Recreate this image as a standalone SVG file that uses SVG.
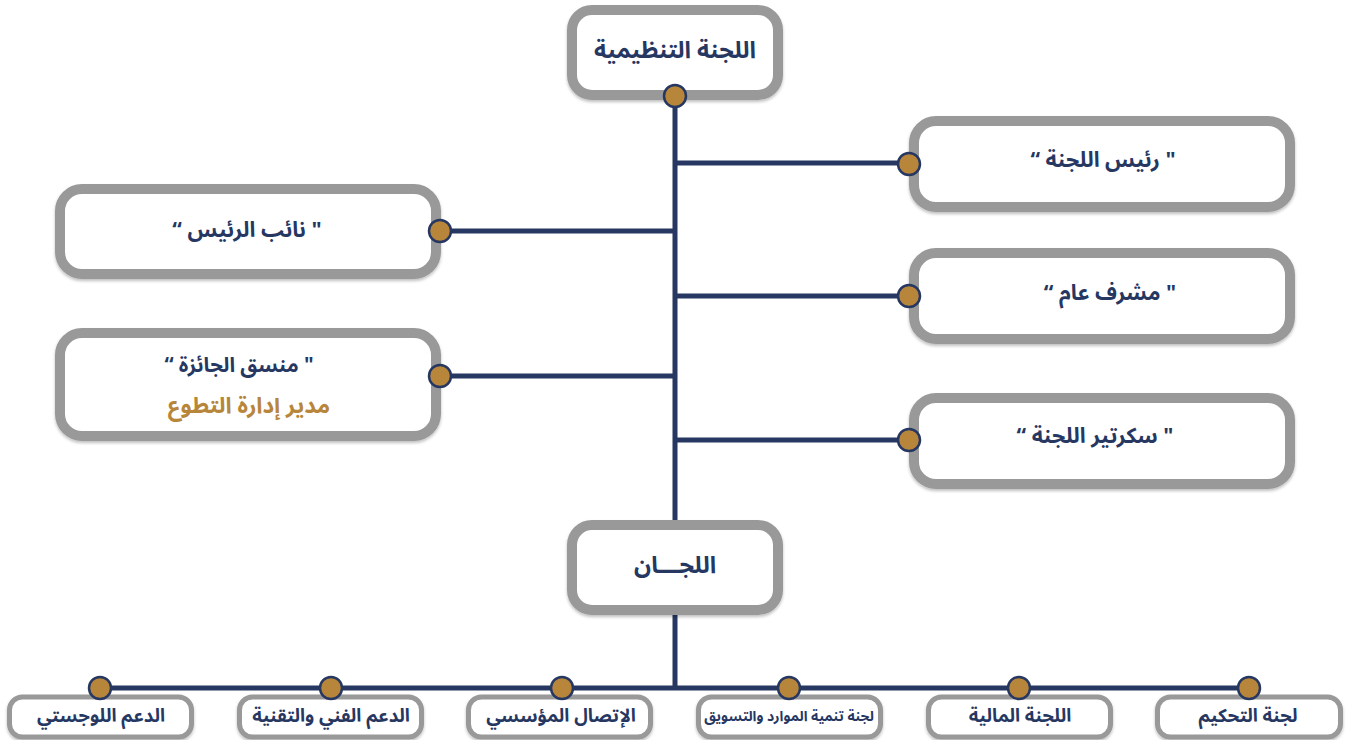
<svg xmlns="http://www.w3.org/2000/svg" width="1347" height="740" viewBox="0 0 1347 740">
<defs>
<filter id="sh" x="-10%" y="-20%" width="120%" height="140%">
<feDropShadow dx="0" dy="2" stdDeviation="1.5" flood-color="#000" flood-opacity="0.25"/>
</filter>
</defs>
<style>
.box{fill:#fff;stroke:#999;stroke-width:10;filter:url(#sh)}
.sbox{fill:#fff;stroke:#999;stroke-width:5;filter:url(#sh)}
.t{font-family:'Noto Sans Arabic','DejaVu Sans',sans-serif;font-weight:bold;fill:#263762;text-anchor:middle;dominant-baseline:middle;direction:rtl;unicode-bidi:embed}
.g{fill:#b8863a}
.ln{stroke:#263762;stroke-width:5;fill:none}
.dot{fill:#b8863a;stroke:#263762;stroke-width:2.5}
</style>
<rect width="1347" height="740" fill="#fff"/>
<g id="connectors">
<line class="ln" x1="675" y1="96" x2="675" y2="530"/>
<line class="ln" x1="675" y1="610" x2="675" y2="688"/>
<line class="ln" x1="675" y1="163" x2="909" y2="163"/>
<line class="ln" x1="675" y1="296" x2="909" y2="296"/>
<line class="ln" x1="675" y1="440" x2="909" y2="440"/>
<line class="ln" x1="440" y1="231" x2="675" y2="231"/>
<line class="ln" x1="440" y1="376" x2="675" y2="376"/>
<line class="ln" x1="100" y1="688" x2="1249" y2="688"/>
</g>
<g id="n-top">
<rect class="box" x="572" y="10" width="206" height="85" rx="20"/>
<text class="t" x="675" y="52" font-size="23.5">اللجنة التنظيمية</text>
</g>
<g id="n-chair">
<rect class="box" x="914" y="121" width="376" height="86" rx="22"/>
<text class="t" x="1103" y="161" font-size="21.5">" رئيس اللجنة “</text>
</g>
<g id="n-super">
<rect class="box" x="914" y="253" width="376" height="86" rx="22"/>
<text class="t" x="1110" y="294" font-size="21.5">" مشرف عام “</text>
</g>
<g id="n-sec">
<rect class="box" x="914" y="398" width="376" height="86" rx="22"/>
<text class="t" x="1095" y="437" font-size="21.5">" سكرتير اللجنة “</text>
</g>
<g id="n-vice">
<rect class="box" x="60" y="189" width="376" height="85" rx="22"/>
<text class="t" x="247" y="231" font-size="21.5">" نائب الرئيس “</text>
</g>
<g id="n-coord">
<rect class="box" x="60" y="333" width="376" height="103" rx="22"/>
<text class="t" x="239" y="366" font-size="20.5">" منسق الجائزة “</text>
<text class="t g" x="249" y="407" font-size="22.5">مدير إدارة التطوع</text>
</g>
<g id="n-comm">
<rect class="box" x="572" y="525" width="206" height="85" rx="20"/>
<text class="t" x="675" y="567" font-size="23.5">اللجـــان</text>
</g>
<g id="n-b1">
<rect class="sbox" x="9.5" y="697" width="182" height="40" rx="13"/>
<text class="t" x="101" y="717" font-size="18.5">الدعم اللوجستي</text>
</g>
<g id="n-b2">
<rect class="sbox" x="239.5" y="697" width="182" height="40" rx="13"/>
<text class="t" x="331" y="717" font-size="18.5">الدعم الفني والتقنية</text>
</g>
<g id="n-b3">
<rect class="sbox" x="468.5" y="697" width="182" height="40" rx="13"/>
<text class="t" x="561" y="717" font-size="18.5">الإتصال المؤسسي</text>
</g>
<g id="n-b4">
<rect class="sbox" x="698.5" y="697" width="182" height="40" rx="13"/>
<text class="t" x="789" y="717" font-size="14">لجنة تنمية الموارد والتسويق</text>
</g>
<g id="n-b5">
<rect class="sbox" x="928.5" y="697" width="182" height="40" rx="13"/>
<text class="t" x="1020" y="717" font-size="18.5">اللجنة المالية</text>
</g>
<g id="n-b6">
<rect class="sbox" x="1157.5" y="697" width="183" height="40" rx="13"/>
<text class="t" x="1248" y="717" font-size="18.5">لجنة التحكيم</text>
</g>
<g id="dots">
<circle class="dot" cx="675" cy="96" r="11"/>
<circle class="dot" cx="909" cy="164" r="11"/>
<circle class="dot" cx="909" cy="296" r="11"/>
<circle class="dot" cx="909" cy="440" r="11"/>
<circle class="dot" cx="440" cy="231" r="11"/>
<circle class="dot" cx="440" cy="376" r="11"/>
<circle class="dot" cx="100" cy="688" r="11"/>
<circle class="dot" cx="331" cy="688" r="11"/>
<circle class="dot" cx="562" cy="688" r="11"/>
<circle class="dot" cx="789" cy="688" r="11"/>
<circle class="dot" cx="1019" cy="688" r="11"/>
<circle class="dot" cx="1249" cy="688" r="11"/>
</g>
</svg>
